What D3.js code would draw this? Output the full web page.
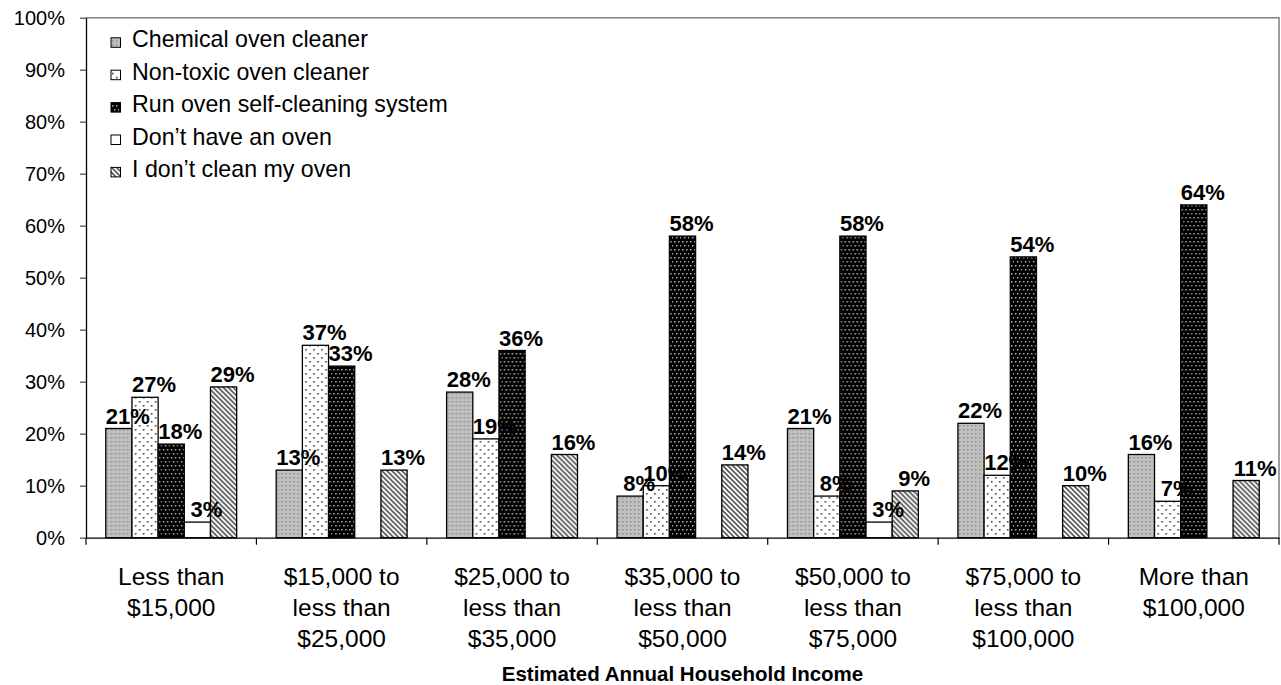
<!DOCTYPE html>
<html>
<head>
<meta charset="utf-8">
<script src="https://cdn.jsdelivr.net/npm/d3@7"></script>
<style>
  html, body { margin: 0; padding: 0; background: #fff; }
  svg text { font-family: "Liberation Sans", Arial, sans-serif; }
</style>
</head>
<body>
<svg id="chart" width="1281" height="685"></svg>
<script>
// Income brackets (x categories), each drawn over several lines
const categories = [
  ["Less than", "$15,000"],
  ["$15,000 to", "less than", "$25,000"],
  ["$25,000 to", "less than", "$35,000"],
  ["$35,000 to", "less than", "$50,000"],
  ["$50,000 to", "less than", "$75,000"],
  ["$75,000 to", "less than", "$100,000"],
  ["More than", "$100,000"]
];

const seriesNames = [
  "Chemical oven cleaner",
  "Non-toxic oven cleaner",
  "Run oven self-cleaning system",
  "Don\u2019t have an oven",
  "I don\u2019t clean my oven"
];

// Percent of respondents; null = no bar shown
const chemical    = [21, 13, 28, 8, 21, 22, 16];
const nonToxic    = [27, 37, 19, 10, 8, 12, 7];
const selfClean   = [18, 33, 36, 58, 58, 54, 64];
const noOven      = [3, null, null, null, 3, null, null];
const dontClean   = [29, 13, 16, 14, 9, 10, 11];

const yTicks = [0, 10, 20, 30, 40, 50, 60, 70, 80, 90, 100];
const xTitle = "Estimated Annual Household Income";

const seriesValues = [chemical, nonToxic, selfClean, noOven, dontClean];
const patternIds = ["pChem", "pNonToxic", "pSelf", "pNone", "pHatch"];

const svg = d3.select("#chart");
const margin = { left: 86, right: 2, top: 17.7, bottom: 147.3 };
const W = 1281, H = 685;
const plotW = W - margin.left - margin.right;
const plotH = H - margin.top - margin.bottom;

// ---- fill patterns ----
const defs = svg.append("defs");

const pChem = defs.append("pattern").attr("id", "pChem")
  .attr("patternUnits", "userSpaceOnUse").attr("width", 4).attr("height", 4);
pChem.append("rect").attr("width", 4).attr("height", 4).attr("fill", "#c0c0c0");
pChem.append("rect").attr("x", 1).attr("y", 1).attr("width", 1.5).attr("height", 1.5).attr("fill", "#8e8e8e");

const pNT = defs.append("pattern").attr("id", "pNonToxic")
  .attr("patternUnits", "userSpaceOnUse").attr("width", 8).attr("height", 8);
pNT.append("rect").attr("width", 8).attr("height", 8).attr("fill", "#fff");
pNT.append("rect").attr("x", 1).attr("y", 1).attr("width", 1.6).attr("height", 1.6).attr("fill", "#444");
pNT.append("rect").attr("x", 5).attr("y", 5).attr("width", 1.6).attr("height", 1.6).attr("fill", "#444");

const pSelf = defs.append("pattern").attr("id", "pSelf")
  .attr("patternUnits", "userSpaceOnUse").attr("width", 8).attr("height", 8);
pSelf.append("rect").attr("width", 8).attr("height", 8).attr("fill", "#000");
[[1,1],[5,1],[3,5],[7,5]].forEach(([x,y]) =>
  pSelf.append("rect").attr("x", x).attr("y", y).attr("width", 1.5).attr("height", 1.5).attr("fill", "#b5b5b5"));

const pNone = defs.append("pattern").attr("id", "pNone")
  .attr("patternUnits", "userSpaceOnUse").attr("width", 4).attr("height", 4);
pNone.append("rect").attr("width", 4).attr("height", 4).attr("fill", "#fff");

const pHatch = defs.append("pattern").attr("id", "pHatch")
  .attr("patternUnits", "userSpaceOnUse").attr("width", 5).attr("height", 5);
pHatch.append("rect").attr("width", 5).attr("height", 5).attr("fill", "#fff");
pHatch.append("path").attr("d", "M-1,-1 L6,6 M-1,4 L1,6 M4,-1 L6,1")
  .attr("stroke", "#555").attr("stroke-width", 1.6);

// ---- scales ----
const x0 = d3.scaleBand().domain(d3.range(categories.length))
  .range([margin.left, margin.left + plotW]).paddingInner(0).paddingOuter(0);
const groupFrac = 0.768;
const x1 = d3.scaleBand().domain(d3.range(seriesNames.length))
  .range([0, x0.bandwidth() * groupFrac]);
const groupOffset = x0.bandwidth() * (1 - groupFrac) / 2;
const y = d3.scaleLinear().domain([0, 100]).range([margin.top + plotH, margin.top]);

// ---- plot frame (top and right) ----
svg.append("path")
  .attr("d", `M${margin.left},${margin.top} H${margin.left + plotW} V${margin.top + plotH}`)
  .attr("fill", "none").attr("stroke", "#808080").attr("stroke-width", 1.5);

// ---- bars ----
const groups = svg.append("g").selectAll("g")
  .data(categories).join("g")
  .attr("transform", (d, i) => `translate(${x0(i) + groupOffset},0)`);

seriesValues.forEach((vals, s) => {
  groups.each(function(d, i) {
    const v = vals[i];
    if (v == null) return;
    d3.select(this).append("rect")
      .attr("x", x1(s))
      .attr("y", y(v))
      .attr("width", x1.bandwidth())
      .attr("height", y(0) - y(v))
      .attr("fill", `url(#${patternIds[s]})`)
      .attr("stroke", "#000").attr("stroke-width", 1.3);
  });
});

// value labels above bars (drawn after all bars so they sit on top)
seriesValues.forEach((vals, s) => {
  groups.each(function(d, i) {
    const v = vals[i];
    if (v == null) return;
    d3.select(this).append("text")
      .attr("x", x1(s) + x1.bandwidth() / 2 + 9)
      .attr("y", y(v) - 5)
      .attr("text-anchor", "middle")
      .attr("font-size", 22).attr("font-weight", "bold").attr("fill", "#000")
      .text(v + "%");
  });
});

// ---- axes ----
const yAxis = d3.axisLeft(y).tickValues(yTicks).tickSize(6).tickSizeOuter(0)
  .tickFormat(d => d + "%");
const yG = svg.append("g").attr("transform", `translate(${margin.left},0)`).call(yAxis);
yG.select(".domain").attr("stroke", "#000").attr("stroke-width", 1.3);
yG.selectAll(".tick line").attr("stroke", "#555").attr("stroke-width", 1.3);
yG.selectAll(".tick text").attr("font-size", 20).attr("fill", "#000").attr("x", -21)
  .attr("font-family", "Liberation Sans, Arial, sans-serif");

const xAxis = d3.axisBottom(x0).tickSize(0).tickFormat("");
const xG = svg.append("g").attr("transform", `translate(0,${y(0)})`).call(xAxis);
xG.select(".domain").attr("stroke", "#000").attr("stroke-width", 1.3);

// boundary ticks between categories
const bounds = d3.range(categories.length + 1).map(i => margin.left + i * x0.bandwidth());
svg.append("g").selectAll("line").data(bounds).join("line")
  .attr("x1", d => d).attr("x2", d => d)
  .attr("y1", y(0)).attr("y2", y(0) + 7)
  .attr("stroke", "#000").attr("stroke-width", 1.2);

// category labels
const catG = svg.append("g").selectAll("text").data(categories).join("text")
  .attr("x", (d, i) => x0(i) + x0.bandwidth() / 2)
  .attr("y", 585)
  .attr("text-anchor", "middle")
  .attr("font-size", 24.5).attr("fill", "#000");
catG.each(function(lines) {
  const t = d3.select(this);
  lines.forEach((ln, k) => {
    t.append("tspan").attr("x", t.attr("x")).attr("dy", k === 0 ? 0 : 31).text(ln);
  });
});

// axis title
svg.append("text")
  .attr("x", margin.left + plotW / 2)
  .attr("y", 681)
  .attr("text-anchor", "middle")
  .attr("font-size", 20.5).attr("font-weight", "bold").attr("fill", "#000")
  .text(xTitle);

// ---- legend ----
const legend = svg.append("g").selectAll("g").data(seriesNames).join("g")
  .attr("transform", (d, i) => `translate(111,${47.3 + i * 32.4})`);
legend.append("rect")
  .attr("x", 0).attr("y", -9.5).attr("width", 9.5).attr("height", 9.5)
  .attr("fill", (d, i) => `url(#${patternIds[i]})`)
  .attr("stroke", "#000").attr("stroke-width", 1);
legend.append("text")
  .attr("x", 21).attr("y", 0)
  .attr("font-size", 23.2).attr("fill", "#000")
  .text(d => d);
</script>
</body>
</html>
